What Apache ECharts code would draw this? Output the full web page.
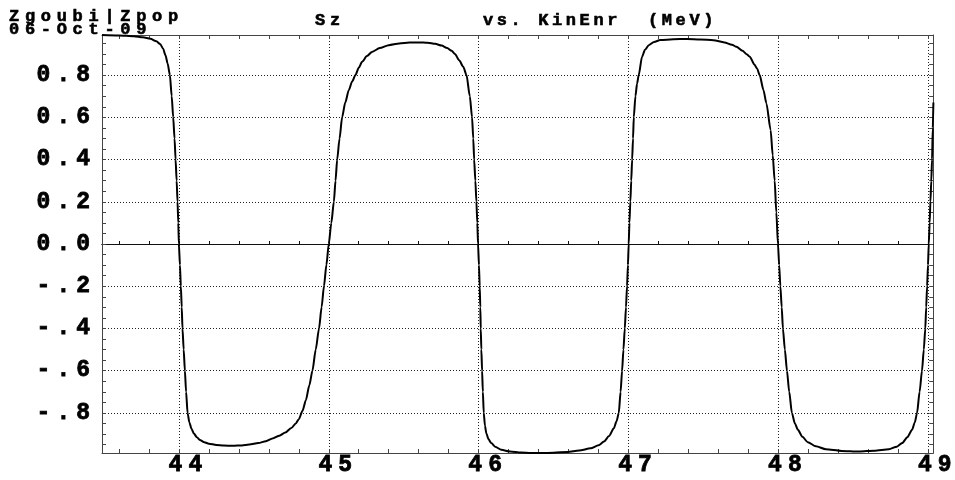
<!DOCTYPE html>
<html><head><meta charset="utf-8">
<script src="https://cdn.jsdelivr.net/npm/echarts@6/dist/echarts.min.js"></script>
<style>html,body{margin:0;padding:0;background:#fff}#c{width:955px;height:480px}</style>
</head><body><div id="c"></div>
<script>
// ---- data ----
const energy = [
43.487,43.60,43.70,43.76,43.81,43.85,43.875,43.895,43.91,43.925,43.94,43.952,43.962,43.971,43.978,43.985,43.991,43.996,44.00,
44.007,44.013,44.019,44.024,44.032,44.040,44.048,44.058,44.07,44.084,44.10,44.12,44.14,44.17,44.20,44.25,44.30,44.36,44.42,44.47,
44.53,44.58,44.63,44.67,44.71,44.75,44.78,44.80,44.825,44.847,44.87,44.891,44.913,44.935,44.952,44.968,44.984,45.00,
45.017,45.034,45.045,45.056,45.072,45.089,45.11,45.134,45.156,45.178,45.20,45.222,45.255,45.288,45.34,45.40,45.47,45.54,45.60,
45.66,45.71,45.753,45.79,45.82,45.842,45.87,45.897,45.919,45.941,45.956,45.964,45.970,45.978,45.985,45.991,45.996,
46.002,46.007,46.011,46.014,46.018,46.023,46.028,46.034,46.042,46.051,46.066,46.084,46.11,46.151,46.21,46.283,46.35,46.42,46.50,
46.593,46.67,46.747,46.80,46.836,46.87,46.902,46.92,46.935,46.947,46.957,46.966,46.975,46.983,46.990,46.996,47.001,
47.006,47.012,47.018,47.024,47.03,47.035,47.046,47.057,47.068,47.09,47.11,47.135,47.17,47.212,47.30,47.389,47.48,47.566,
47.64,47.69,47.72,47.76,47.79,47.809,47.84,47.858,47.875,47.90,47.92,47.948,47.962,47.975,47.986,47.997,
48.005,48.013,48.022,48.03,48.043,48.057,48.072,48.09,48.11,48.13,48.16,48.196,48.25,48.317,48.42,48.538,48.64,48.737,
48.79,48.826,48.86,48.892,48.91,48.925,48.942,48.958,48.97,48.98,48.986,48.992,48.998,49.003,
49.009,49.014,49.02,49.025,49.03,49.034
];
const sz = [
0.99,0.988,0.984,0.979,0.972,0.96,0.947,0.925,0.895,0.855,0.80,0.70,0.60,0.50,0.40,0.30,0.20,0.10,0.0,
-0.1,-0.2,-0.3,-0.4,-0.5,-0.6,-0.7,-0.8,-0.845,-0.875,-0.898,-0.915,-0.928,-0.939,-0.946,-0.952,-0.955,-0.956,-0.954,-0.95,
-0.943,-0.934,-0.92,-0.908,-0.893,-0.872,-0.85,-0.83,-0.79,-0.74,-0.67,-0.60,-0.50,-0.40,-0.30,-0.20,-0.10,0.0,
0.10,0.20,0.30,0.40,0.50,0.60,0.67,0.73,0.77,0.80,0.835,0.863,0.89,0.91,0.928,0.942,0.95,0.954,0.955,
0.953,0.948,0.94,0.928,0.915,0.90,0.87,0.84,0.80,0.70,0.60,0.50,0.40,0.30,0.20,0.10,0.0,
-0.1,-0.2,-0.3,-0.4,-0.5,-0.6,-0.7,-0.8,-0.86,-0.896,-0.925,-0.943,-0.96,-0.975,-0.983,-0.988,-0.99,-0.99,-0.989,
-0.985,-0.978,-0.968,-0.953,-0.936,-0.91,-0.873,-0.84,-0.80,-0.70,-0.60,-0.50,-0.40,-0.30,-0.20,-0.10,0.0,
0.1,0.2,0.3,0.4,0.5,0.6,0.70,0.76,0.80,0.887,0.92,0.942,0.957,0.966,0.970,0.971,0.969,0.965,
0.955,0.944,0.934,0.915,0.898,0.887,0.85,0.83,0.80,0.73,0.666,0.54,0.42,0.30,0.15,0.0,
-0.1,-0.2,-0.3,-0.4,-0.5,-0.6,-0.7,-0.8,-0.85,-0.88,-0.913,-0.939,-0.958,-0.972,-0.98,-0.983,-0.979,-0.972,
-0.96,-0.943,-0.915,-0.88,-0.845,-0.80,-0.70,-0.60,-0.50,-0.40,-0.30,-0.20,-0.10,0.0,
0.1,0.2,0.3,0.4,0.55,0.67
];
const xTickValues = [44, 45, 46, 47, 48, 49];
const xTickLabels = ['44', '45', '46', '47', '48', '49'];
const yTickValues = [-0.8, -0.6, -0.4, -0.2, 0, 0.2, 0.4, 0.6, 0.8];
const yTickLabels = ['-.8', '-.6', '-.4', '-.2', '0.0', '0.2', '0.4', '0.6', '0.8'];
const titleLeft1 = 'Zgoubi|Zpop';
const titleLeft2 = '06-Oct-09';
const titleY = 'Sz';
const titleX = 'vs. KinEnr';
const titleUnit = '(MeV)';

const xMin = 43.487, xMax = 49.033, yMin = -0.99, yMax = 0.99;

// minor tick positions (0.2 on x, 0.05 on y)
const xMinor = []; for (let k = 218; k <= 245; k++) xMinor.push(k / 5);
const yMinor = []; for (let k = -19; k <= 19; k++) yMinor.push(k / 20);

const FONT = 'Liberation Mono';
function spaced(s) { return s.split('').join('{g|\u00a0}'); }

const chart = echarts.init(document.getElementById('c'), null, { renderer: 'canvas' });
const lineCol = '#444';
const gridStyle = { type: [1, 2], color: '#222', width: 1 };

function baseX(extra) {
  return Object.assign({
    type: 'value', gridIndex: 0, min: xMin, max: xMax,
    axisLine: { show: false, onZero: false, lineStyle: { color: lineCol, width: 1 } },
    axisTick: { show: false }, axisLabel: { show: false },
    splitLine: { show: false }, minorTick: { show: false }, minorSplitLine: { show: false }
  }, extra);
}
function baseY(extra) {
  return Object.assign({
    type: 'value', gridIndex: 0, min: yMin, max: yMax,
    axisLine: { show: false, onZero: false, lineStyle: { color: lineCol, width: 1 } },
    axisTick: { show: false }, axisLabel: { show: false },
    splitLine: { show: false }, minorTick: { show: false }, minorSplitLine: { show: false }
  }, extra);
}

const titleStyle = (size, gap) => ({
  fontFamily: FONT, fontWeight: 'bold', fontSize: size, color: '#000',
  textBorderColor: '#000', textBorderWidth: 0.6,
  rich: { g: { fontFamily: FONT, fontSize: gap } }
});
const labelCommon = {
  fontFamily: FONT, fontWeight: 'bold', fontSize: 23, color: '#000',
  textBorderColor: '#000', textBorderWidth: 0.8,
  rich: { g: { fontFamily: FONT, fontSize: 10 } }
};

const option = {
  animation: false,
  backgroundColor: '#fff',
  title: [
    { text: spaced(titleLeft1), left: 9, top: 8, padding: 0, textStyle: titleStyle(17, 9.5) },
    { text: spaced(titleLeft2), left: 9, top: 21, padding: 0, textStyle: titleStyle(17, 9.5) },
    { text: spaced(titleY), left: 315, top: 12, padding: 0, textStyle: titleStyle(17, 8) },
    { text: spaced(titleX), left: 483, top: 12, padding: 0, textStyle: titleStyle(17, 6) },
    { text: spaced(titleUnit), left: 648, top: 12, padding: 0, textStyle: titleStyle(17, 6) }
  ],
  grid: { left: 102, top: 35, width: 836, height: 418, containLabel: false },
  xAxis: [
    baseX({ position: 'bottom',
      axisLine: { show: true, onZero: false, lineStyle: { color: lineCol, width: 1 } },
      axisTick: { show: true, inside: true, length: 4, customValues: xMinor, lineStyle: { color: lineCol } },
      axisLabel: Object.assign({ show: true, customValues: xTickValues, margin: 1, padding: [0, 0, 0, 13],
        formatter: v => { const i = xTickValues.findIndex(t => Math.abs(t - v) < 1e-6); return i < 0 ? '' : spaced(xTickLabels[i]); }
      }, labelCommon) }),
    baseX({ position: 'top',
      axisLine: { show: true, onZero: false, lineStyle: { color: lineCol, width: 1 } },
      axisTick: { show: true, inside: true, length: 4, customValues: xMinor, lineStyle: { color: lineCol } } }),
    baseX({ position: 'bottom', splitNumber: 5, splitLine: { show: true, lineStyle: gridStyle } }),
    baseX({ position: 'bottom',
      axisLine: { show: true, onZero: true, onZeroAxisIndex: 0, lineStyle: { color: '#111', width: 1.2 } },
      axisTick: { show: true, inside: true, length: 3, customValues: xMinor, lineStyle: { color: '#111' } } }),
    baseX({ position: 'top',
      axisLine: { show: true, onZero: true, onZeroAxisIndex: 0, lineStyle: { color: '#111', width: 1.2 } },
      axisTick: { show: true, inside: false, length: 3, customValues: xMinor, lineStyle: { color: '#111' } } })
  ],
  yAxis: [
    baseY({ position: 'left',
      axisLine: { show: true, onZero: false, lineStyle: { color: lineCol, width: 1 } },
      axisTick: { show: true, inside: true, length: 4, customValues: yMinor, lineStyle: { color: lineCol } },
      axisLabel: Object.assign({ show: true, customValues: yTickValues, margin: 12,
        formatter: v => { const i = yTickValues.findIndex(t => Math.abs(t - v) < 1e-6); return i < 0 ? '' : spaced(yTickLabels[i]); }
      }, labelCommon) }),
    baseY({ position: 'right',
      axisLine: { show: true, onZero: false, lineStyle: { color: lineCol, width: 1 } },
      axisTick: { show: true, inside: true, length: 4, customValues: yMinor, lineStyle: { color: lineCol } } }),
    baseY({ position: 'left', splitNumber: 10, splitLine: { show: true, lineStyle: gridStyle } })
  ],
  series: [{
    type: 'line', xAxisIndex: 0, yAxisIndex: 0,
    data: energy.map((e, i) => [e, sz[i]]),
    showSymbol: false, symbol: 'none', clip: true,
    smooth: 0.25, smoothMonotone: 'x',
    lineStyle: { color: '#000', width: 2 }
  }]
};
chart.setOption(option);
</script></body></html>
